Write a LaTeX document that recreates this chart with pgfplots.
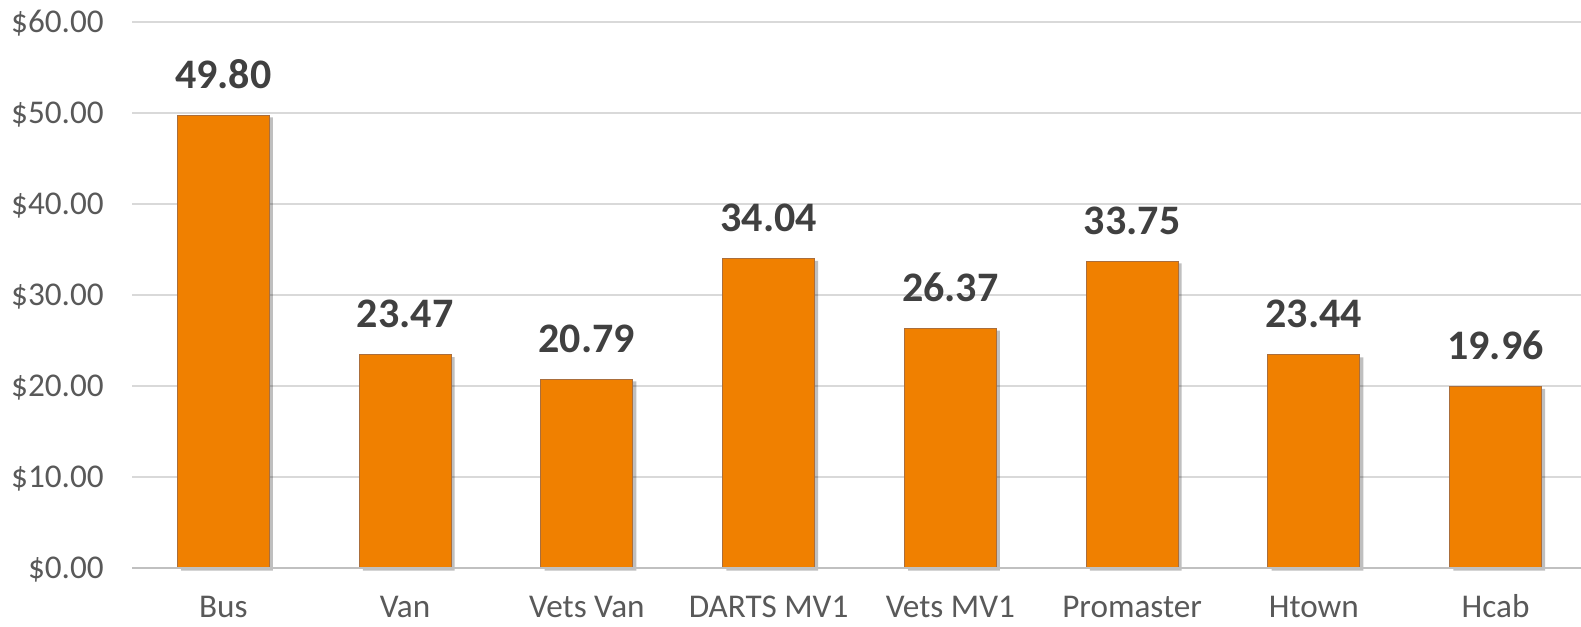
\documentclass[border=0pt]{standalone}
\usepackage{fontspec}
\setmainfont{Carlito}
\usepackage{pgfplots}
\pgfplotsset{compat=1.18}
\definecolor{barorange}{RGB}{240,128,0}
\definecolor{gridgray}{RGB}{217,217,217}
\definecolor{ticktext}{RGB}{89,89,89}
\definecolor{labeltext}{RGB}{64,64,64}
\begin{document}
\begin{tikzpicture}
\begin{axis}[
  at={(0,0)}, anchor=south west,
  scale only axis,
  width=724.25pt, height=273pt,
  xmin=-0.5, xmax=7.47,
  ymin=0, ymax=60,
  ytick={0,10,20,30,40,50,60},
  xtick={0,1,2,3,4,5,6,7},
  xticklabels={Bus,Van,Vets Van,DARTS MV1,Vets MV1,Promaster,Htown,Hcab},
  major tick length=0pt,
  axis line style={draw=none},
  ymajorgrids,
  grid style={gridgray, line width=1.1pt},
  tick label style={font=\fontsize{16.6}{18}\selectfont, text=ticktext},
  yticklabel={\$\pgfmathprintnumber[fixed,fixed zerofill,precision=2,assume math mode=true]{\tick}},
  yticklabel style={anchor=base east, inner sep=0pt, xshift=-14.2pt, yshift=-5.3pt},
  xticklabel style={anchor=base, inner sep=0pt, yshift=-24.6pt},
  point meta=explicit symbolic,
  nodes near coords,
  every node near coord/.append style={anchor=base, inner sep=0pt, yshift=13.5pt,
     font=\fontsize{21}{24}\selectfont\bfseries, text=labeltext},
  clip=false,
]
\addplot[ybar, bar width=45.9pt, fill=barorange, draw={rgb,255:red,170;green,110;blue,60}, line width=0.5pt,
  preaction={draw=none, fill=black, fill opacity=0.25, transform canvas={xshift=1.8pt, yshift=-1.2pt}}]
  table[meta=lab] {
x y lab
0 49.80 49.80
1 23.47 23.47
2 20.79 20.79
3 34.04 34.04
4 26.37 26.37
5 33.75 33.75
6 23.44 23.44
7 19.96 19.96
};
\draw[gridgray!85!black!90, line width=1.1pt] (axis cs:-0.5,0) -- (axis cs:7.47,0);
\end{axis}
\pgfresetboundingbox
\path (-66.25pt,-29.4pt) rectangle (724.25pt,284.1pt);
\end{tikzpicture}
\end{document}
